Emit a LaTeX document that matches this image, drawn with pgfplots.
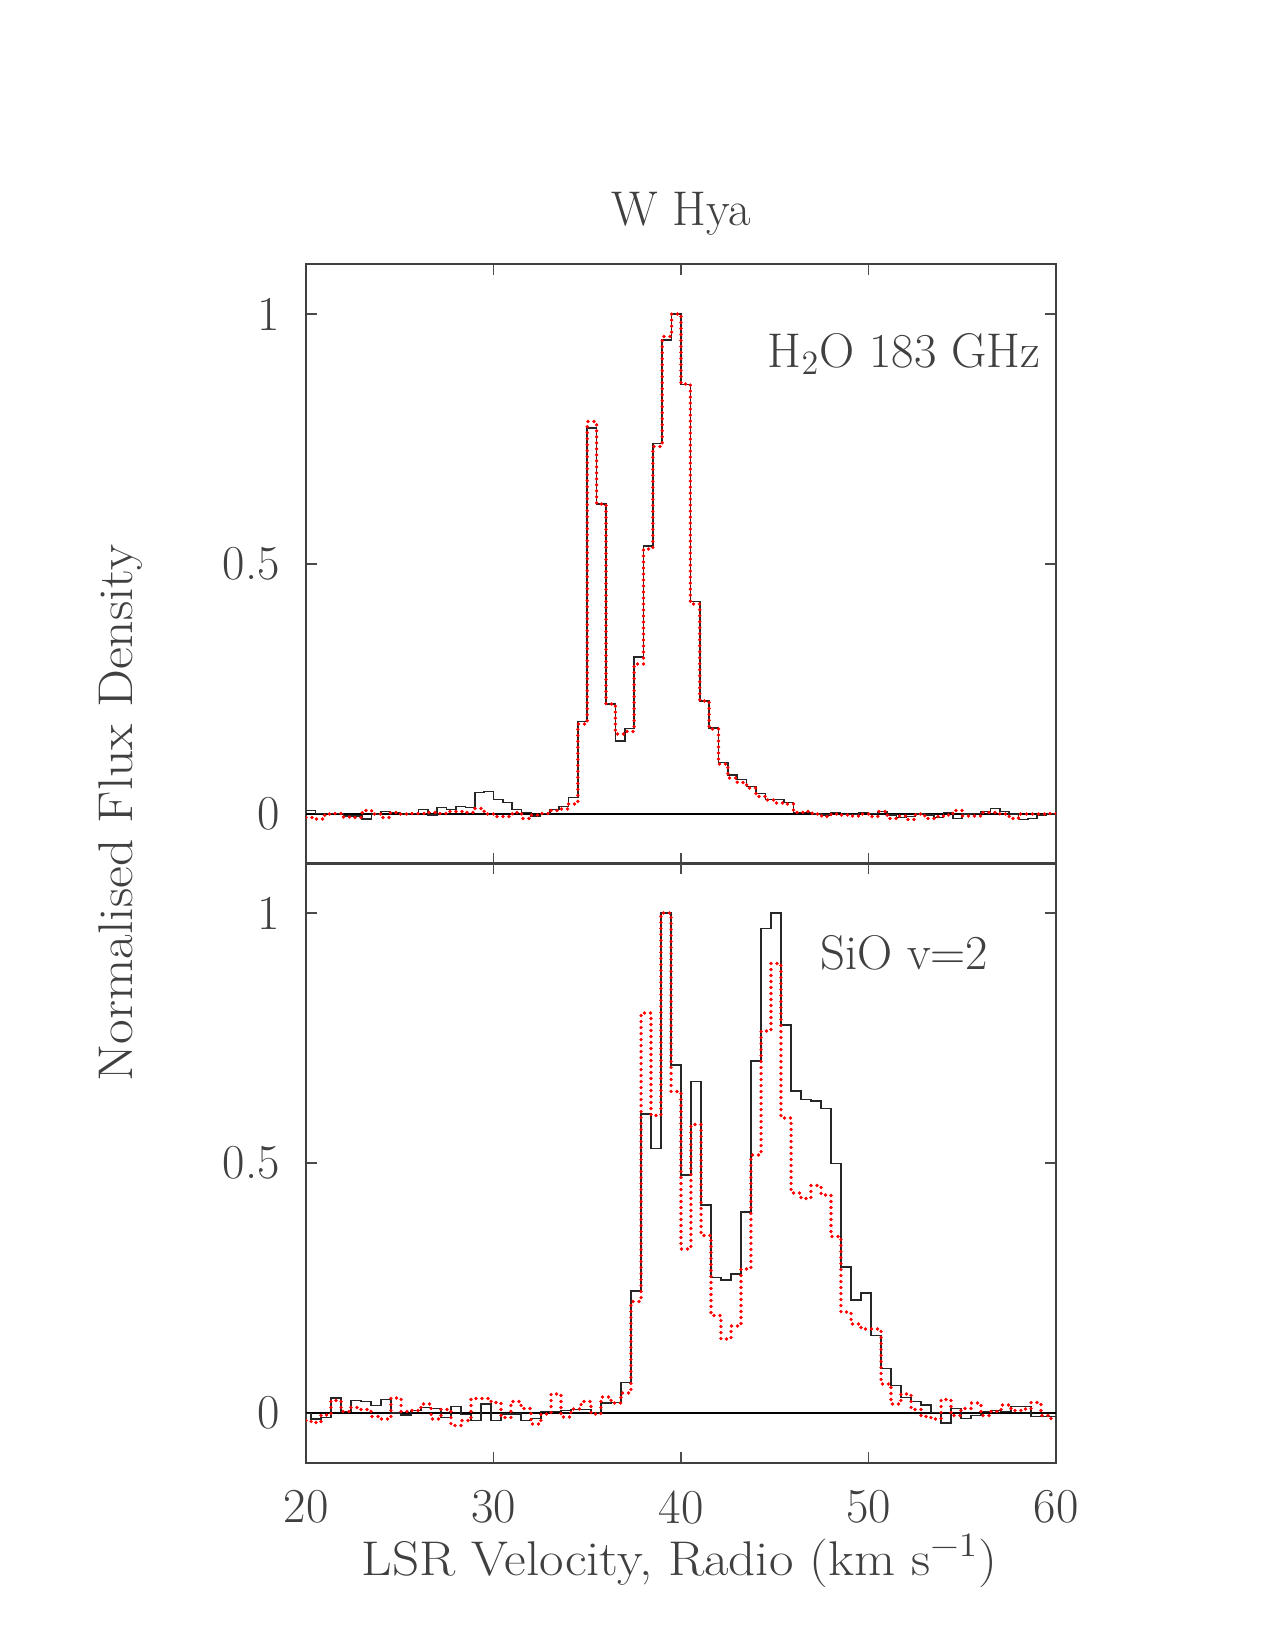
\documentclass[border=0pt]{standalone}
\usepackage{pgfplots}
\pgfplotsset{compat=1.18}
\usepackage{pgfplotstable}

\pgfplotstableread{
x y
20.0 0.007
20.5 0.001
21.0 0.001
21.5 0.001
22.0 -0.004
22.5 -0.004
23.0 -0.010
23.5 0.000
24.0 0.005
24.5 0.003
25.0 0.000
25.5 0.001
26.0 0.009
26.5 -0.002
27.0 0.013
27.5 0.009
28.0 0.015
28.5 0.013
29.0 0.043
29.5 0.045
30.0 0.029
30.5 0.023
31.0 0.009
31.5 0.003
32.0 -0.004
32.5 0.001
33.0 0.009
33.5 0.015
34.0 0.033
34.5 0.185
35.0 0.772
35.5 0.620
36.0 0.220
36.5 0.146
37.0 0.171
37.5 0.314
38.0 0.536
38.5 0.741
39.0 0.948
39.5 1.000
40.0 0.859
40.5 0.425
41.0 0.226
41.5 0.172
42.0 0.103
42.5 0.078
43.0 0.069
43.5 0.055
44.0 0.041
44.5 0.029
45.0 0.029
45.5 0.023
46.0 0.003
46.5 0.003
47.0 0.000
47.5 -0.002
48.0 0.003
48.5 -0.001
49.0 -0.001
49.5 0.003
50.0 0.001
50.5 0.005
51.0 -0.002
51.5 -0.007
52.0 -0.005
52.5 0.000
53.0 -0.002
53.5 -0.007
54.0 0.003
54.5 -0.009
55.0 0.000
55.5 0.001
56.0 0.005
56.5 0.011
57.0 0.005
57.5 0.000
58.0 -0.011
58.5 -0.009
59.0 -0.002
59.5 0.000
60.0 0.000
}\waterblack

\pgfplotstableread{
x y
20.0 -0.007
20.5 -0.010
21.0 0.000
21.5 0.001
22.0 -0.006
22.5 -0.007
23.0 0.007
23.5 0.000
24.0 -0.007
24.5 0.003
25.0 0.000
25.5 0.001
26.0 0.001
26.5 0.003
27.0 0.001
27.5 0.005
28.0 0.005
28.5 0.003
29.0 0.011
29.5 0.000
30.0 -0.005
30.5 -0.005
31.0 0.003
31.5 -0.009
32.0 -0.002
32.5 0.001
33.0 0.007
33.5 0.010
34.0 0.020
34.5 0.180
35.0 0.785
35.5 0.620
36.0 0.220
36.5 0.160
37.0 0.165
37.5 0.300
38.0 0.530
38.5 0.735
39.0 0.955
39.5 1.000
40.0 0.860
40.5 0.420
41.0 0.226
41.5 0.170
42.0 0.100
42.5 0.072
43.0 0.063
43.5 0.052
44.0 0.035
44.5 0.028
45.0 0.022
45.5 0.020
46.0 0.003
46.5 0.005
47.0 0.000
47.5 -0.005
48.0 0.000
48.5 -0.002
49.0 -0.004
49.5 0.000
50.0 -0.005
50.5 0.005
51.0 -0.009
51.5 -0.004
52.0 -0.011
52.5 0.000
53.0 -0.009
53.5 -0.005
54.0 -0.002
54.5 0.007
55.0 -0.004
55.5 -0.004
56.0 0.003
56.5 0.003
57.0 0.000
57.5 -0.009
58.0 0.000
58.5 0.000
59.0 0.000
59.5 0.001
60.0 0.001
}\waterred

\pgfplotstableread{
x y
20.00 -0.001
20.27 -0.012
20.80 -0.009
21.33 0.030
21.87 0.003
22.40 0.025
22.93 0.023
23.47 0.015
24.00 0.027
24.53 0.000
25.07 -0.004
25.60 0.005
26.13 0.011
26.67 0.009
27.20 -0.009
27.73 0.013
28.27 -0.003
28.80 -0.015
29.33 0.018
29.87 -0.015
30.40 -0.002
30.93 -0.002
31.47 -0.015
32.00 -0.011
32.53 0.003
33.07 0.003
33.60 0.005
34.13 0.007
34.67 0.007
35.20 0.001
35.73 0.020
36.27 0.021
36.80 0.061
37.33 0.244
37.87 0.598
38.40 0.529
38.93 1.000
39.47 0.696
40.00 0.476
40.53 0.663
41.07 0.416
41.60 0.271
42.13 0.266
42.67 0.278
43.20 0.402
43.73 0.704
44.27 0.969
44.80 1.000
45.33 0.776
45.87 0.644
46.40 0.627
46.93 0.624
47.47 0.609
48.00 0.499
48.53 0.292
49.07 0.226
49.60 0.240
50.13 0.155
50.67 0.089
51.20 0.055
51.73 0.031
52.27 0.023
52.80 0.016
53.33 0.001
53.87 -0.020
54.40 0.009
54.93 -0.011
55.47 -0.005
56.00 0.003
56.53 0.005
57.07 0.003
57.60 0.013
58.13 0.013
58.67 -0.007
59.20 -0.007
59.73 -0.007
60.00 -0.007
}\siob

\pgfplotstableread{
x y
20.00 -0.015
20.27 -0.019
20.80 -0.004
21.33 0.025
21.87 0.003
22.40 0.011
22.93 0.007
23.47 -0.007
24.00 -0.012
24.53 0.030
25.07 0.003
25.60 0.005
26.13 0.018
26.67 -0.012
27.20 0.007
27.73 -0.025
28.27 -0.015
28.80 0.029
29.33 0.029
29.87 0.021
30.40 -0.009
30.93 0.023
31.47 0.009
32.00 -0.022
32.53 -0.002
33.07 0.038
33.60 -0.008
34.13 0.008
34.67 0.023
35.20 -0.002
35.73 0.032
36.27 0.020
36.80 0.040
37.33 0.223
37.87 0.800
38.40 0.595
38.93 1.000
39.47 0.643
40.00 0.328
40.53 0.577
41.07 0.355
41.60 0.195
42.13 0.148
42.67 0.174
43.20 0.288
43.73 0.516
44.27 0.764
44.80 0.899
45.33 0.590
45.87 0.440
46.40 0.429
46.93 0.455
47.47 0.436
48.00 0.353
48.53 0.202
49.07 0.178
49.60 0.168
50.13 0.168
50.67 0.058
51.20 0.018
51.73 0.038
52.27 0.007
52.80 -0.007
53.33 -0.012
53.87 0.027
54.40 -0.005
54.93 0.009
55.47 0.020
56.00 -0.005
56.53 0.003
57.07 0.016
57.60 0.005
58.13 0.008
58.67 0.021
59.20 -0.005
59.73 -0.011
60.00 -0.011
}\siored

\newcommand{\bigfont}{\fontsize{19.5}{23}\selectfont}
\definecolor{txt}{gray}{0.25}

\pgfplotsset{
  panel/.style={
    scale only axis, width=300pt, height=240pt,
    xmin=20, xmax=60, ymin=-0.1, ymax=1.1,
    xtick={20,30,40,50,60}, ytick={0,0.5,1},
    tick align=inside, major tick length=4.5pt,
    tick style={black!70, line width=0.5pt},
    axis line style={black!75, line width=0.5pt},
    tick label style={font=\bigfont, text=txt},
    /pgf/number format/assume math mode=true,
    yticklabel style={xshift=-7pt},
    xticklabel style={yshift=-7.5pt},
    clip=true,
  },
  blk/.style={const plot, black!85, line width=0.65pt},
  rd/.style={const plot, red, line width=1.45pt, line cap=round, dash pattern=on 0pt off 2.4pt},
}

\begin{document}
\begin{tikzpicture}
\path[use as bounding box] (0,0) rectangle (510pt,660pt);

\begin{axis}[panel, at={(122.4pt,314.4pt)}, anchor=south west, xticklabels={}]
\addplot[black, line width=0.55pt] coordinates {(20,0) (60,0)};
\addplot[blk] table[x=x,y=y] {\waterblack};
\addplot[rd] table[x=x,y=y] {\waterred};
\node[font=\bigfont, text=txt] at (axis cs:51.9,0.92) {H\textsubscript{2}O 183 GHz};
\end{axis}

\begin{axis}[panel, at={(122.4pt,74.8pt)}, anchor=south west]
\addplot[black, line width=0.55pt] coordinates {(20,0) (60,0)};
\addplot[blk] table[x=x,y=y] {\siob};
\addplot[rd] table[x=x,y=y] {\siored};
\node[font=\bigfont, text=txt] at (axis cs:51.9,0.92) {SiO v=2};
\end{axis}

\node[font=\bigfont, text=txt] at (272.4pt,574.6pt) {W Hya};
\node[font=\bigfont, text=txt, xscale=1.09] at (271.8pt,35.6pt) {LSR Velocity, Radio (km s\textsuperscript{−1})};
\node[font=\bigfont, text=txt, rotate=90, xscale=1.1] at (48.4pt,334.8pt) {Normalised Flux Density};
\end{tikzpicture}
\end{document}
